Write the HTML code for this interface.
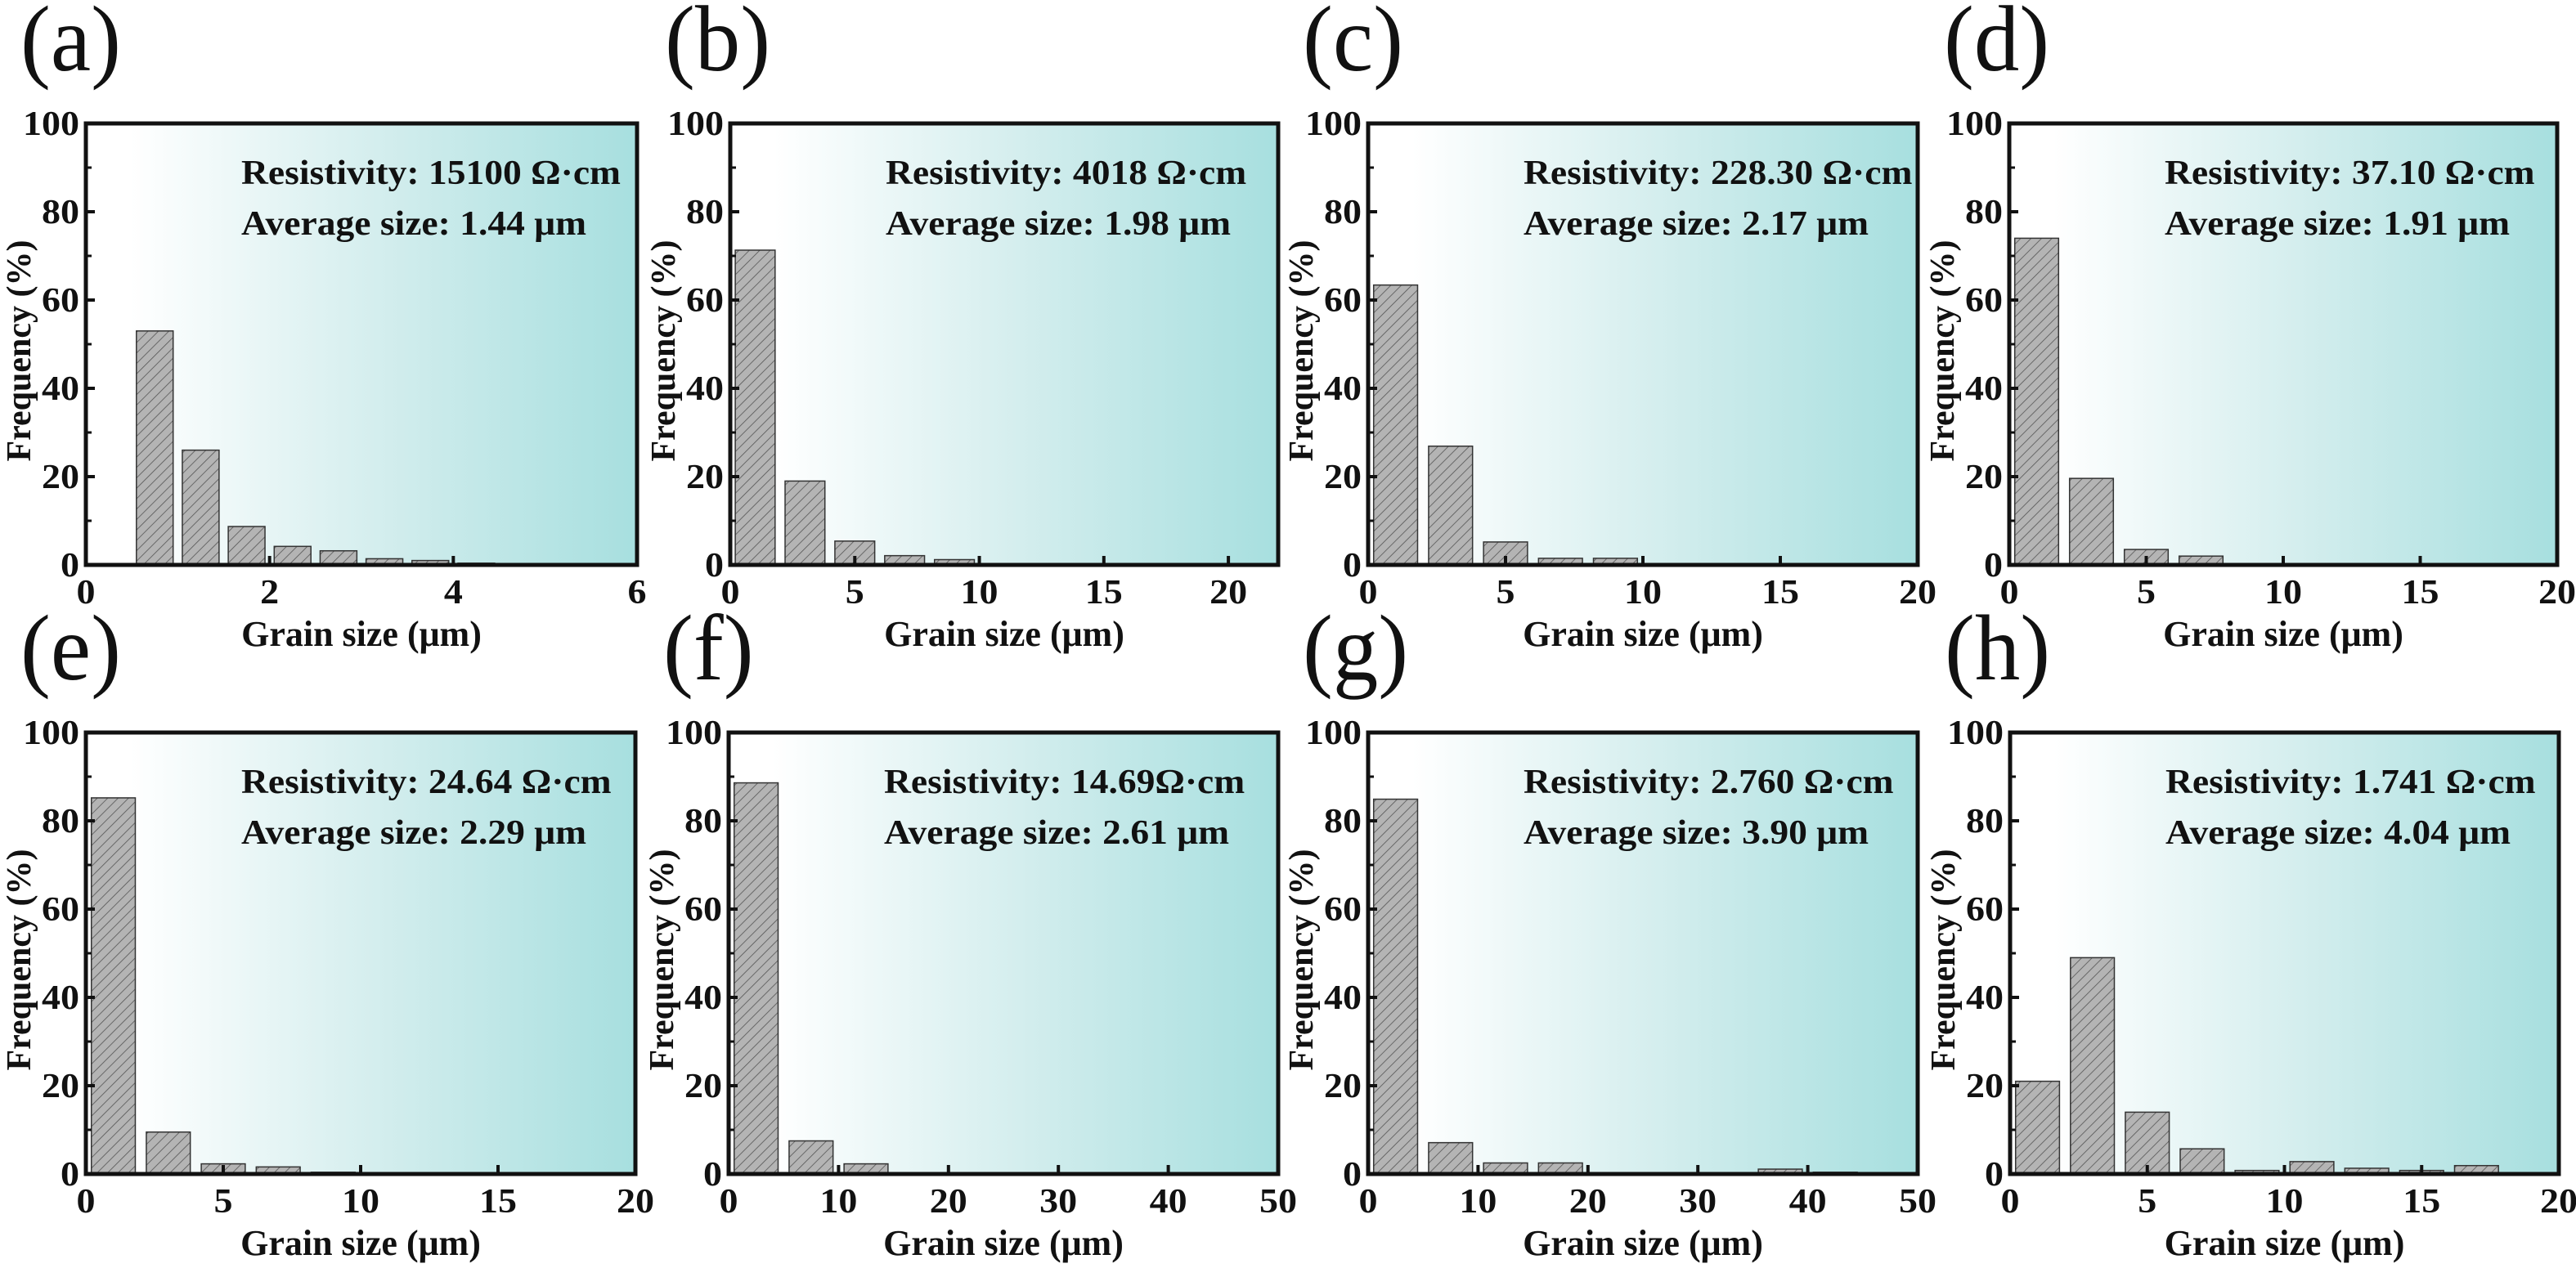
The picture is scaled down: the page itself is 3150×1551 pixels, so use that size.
<!DOCTYPE html>
<html><head><meta charset="utf-8">
<style>
html,body{margin:0;padding:0;background:#fff;}
svg, svg text{font-family:"Times New Roman","Liberation Serif","Nimbus Roman","DejaVu Serif",serif;}
</style></head>
<body>
<svg id="fig" xmlns="http://www.w3.org/2000/svg" width="3150" height="1546" viewBox="0 0 3150 1546">
<defs>
<linearGradient id="bg" x1="0" y1="0" x2="1" y2="0">
<stop offset="0" stop-color="#ffffff"/>
<stop offset="0.08" stop-color="#ffffff"/>
<stop offset="0.55" stop-color="#d2eded"/>
<stop offset="1" stop-color="#a7dfdf"/>
</linearGradient>
<pattern id="hatch" patternUnits="userSpaceOnUse" width="9" height="9" patternTransform="rotate(45)">
<rect width="9" height="9" fill="#b4b4b4"/>
<line x1="0" y1="0" x2="0" y2="9" stroke="#555" stroke-width="1.6"/>
</pattern>
</defs>
</svg>
<script>
// Panel (a)
const binsA=[0.75,1.25,1.75,2.25,2.75,3.25,3.75,4.25,4.75];
const valsA=[53,26,8.7,4.2,3.2,1.4,1.0,0.4,0.2];
// Panel (b)
const binsB=[1,3,5,7,9];
const valsB=[71.3,19,5.4,2.1,1.2];
// Panel (c)
const binsC=[1,3,5,7,9,11,13];
const valsC=[63.4,26.9,5.2,1.5,1.5,0,0.3];
// Panel (d)
const binsD=[1,3,5,7,9];
const valsD=[74,19.6,3.5,2.0,0.2];
// Panel (e)
const binsE=[1,3,5,7,9];
const valsE=[85.2,9.5,2.3,1.6,0.4];
// Panel (f)
const binsF=[2.5,7.5,12.5];
const valsF=[88.6,7.5,2.3];
// Panel (g)
const binsG=[2.5,7.5,12.5,17.5,22.5,27.5,32.5,37.5,42.5];
const valsG=[84.9,7.1,2.5,2.5,0,0.3,0,1.1,0.4];
// Panel (h)
const binsH=[1,3,5,7,9,11,13,15,17,19];
const valsH=[21,49,14,5.7,0.8,2.8,1.3,0.8,1.9,0.3];
const yTicks=[0,20,40,60,80,100];
const xTicksA=[0,2,4,6];
const xTicks20=[0,5,10,15,20];
const xTicks50=[0,10,20,30,40,50];
const letters=['(a)','(b)','(c)','(d)','(e)','(f)','(g)','(h)'];
const resist=['Resistivity: 15100 Ω·cm','Resistivity: 4018 Ω·cm','Resistivity: 228.30 Ω·cm','Resistivity: 37.10 Ω·cm','Resistivity: 24.64 Ω·cm','Resistivity: 14.69Ω·cm','Resistivity: 2.760 Ω·cm','Resistivity: 1.741 Ω·cm'];
const avgSize=['Average size: 1.44 μm','Average size: 1.98 μm','Average size: 2.17 μm','Average size: 1.91 μm','Average size: 2.29 μm','Average size: 2.61 μm','Average size: 3.90 μm','Average size: 4.04 μm'];

const NS='http://www.w3.org/2000/svg';
const svg=document.getElementById('fig');
function mk(tag,attrs,parent){const e=document.createElementNS(NS,tag);for(const k in attrs)e.setAttribute(k,attrs[k]);(parent||svg).appendChild(e);return e;}

function measure(str,size,weight){const t=mk('text',{x:0,y:-100,'font-size':size,'font-weight':weight||'normal'});t.textContent=str;const w=t.getComputedTextLength();svg.removeChild(t);return w;}
const kBold=464/measure('Resistivity: 15100 Ω·cm',42,'bold');
const kTick=69/measure('100',42,'bold');
const kLetter=123/measure('(e)',114,'normal');
const kXTitle=298/measure('Grain size (μm)',44,'bold');
const kYTitle=270/measure('Frequency (%)',42,'bold');
function fit(t,k){const w=t.getComputedTextLength();if(w>0&&Math.abs(k-1)>0.02){t.setAttribute('textLength',(w*k).toFixed(1));t.setAttribute('lengthAdjust','spacingAndGlyphs');}}

const panels=[
 {x0:105,y0:151,w:674,h:540,xmax:6,ticks:xTicksA,bw:0.4,bins:binsA,vals:valsA},
 {x0:893,y0:151,w:670,h:540,xmax:22,ticks:xTicks20,bw:1.6,bins:binsB,vals:valsB},
 {x0:1673,y0:151,w:672,h:540,xmax:20,ticks:xTicks20,bw:1.6,bins:binsC,vals:valsC},
 {x0:2457,y0:151,w:670,h:540,xmax:20,ticks:xTicks20,bw:1.6,bins:binsD,vals:valsD},
 {x0:105,y0:896,w:672,h:540,xmax:20,ticks:xTicks20,bw:1.6,bins:binsE,vals:valsE},
 {x0:891,y0:896,w:672,h:540,xmax:50,ticks:xTicks50,bw:4,bins:binsF,vals:valsF},
 {x0:1673,y0:896,w:672,h:540,xmax:50,ticks:xTicks50,bw:4,bins:binsG,vals:valsG},
 {x0:2458,y0:896,w:671,h:540,xmax:20,ticks:xTicks20,bw:1.6,bins:binsH,vals:valsH}
];

panels.forEach((p,i)=>{
 const g=mk('g',{});
 
 
 const xs=v=>p.x0+v/p.xmax*p.w;
 const ys=v=>p.y0+p.h-v/100*p.h;
 const bottom=p.y0+p.h;
 const bg=mk('rect',{x:p.x0,y:p.y0,width:p.w,height:p.h,fill:'url(#bg)'},g);
 
 
 p.bins.forEach((c,j)=>{
  const v=p.vals[j];
  if(v<=0)return;
  const r=mk('rect',{x:xs(c-p.bw/2),y:ys(v),width:xs(c+p.bw/2)-xs(c-p.bw/2),height:bottom-ys(v),fill:'url(#hatch)',stroke:'#333','stroke-width':1.5},g);
  
  
 });
 yTicks.forEach(t=>{
  mk('line',{x1:p.x0,x2:p.x0+11,y1:ys(t),y2:ys(t),stroke:'#111','stroke-width':4},g);
  const tl=mk('text',{x:p.x0-8,y:ys(t)+14,'text-anchor':'end','font-size':42,'font-weight':'bold',fill:'#111'},g);
  tl.textContent=t;
  
  
  fit(tl,kTick);
 });
 for(let t=10;t<100;t+=20){mk('line',{x1:p.x0,x2:p.x0+7,y1:ys(t),y2:ys(t),stroke:'#111','stroke-width':3},g);}
 p.ticks.forEach(t=>{
  mk('line',{x1:xs(t),x2:xs(t),y1:bottom,y2:bottom-11,stroke:'#111','stroke-width':4},g);
  const tl=mk('text',{x:xs(t),y:bottom+47,'text-anchor':'middle','font-size':42,'font-weight':'bold',fill:'#111'},g);
  tl.textContent=t;
  
  
  fit(tl,kTick);
 });
 const fr=mk('rect',{x:p.x0,y:p.y0,width:p.w,height:p.h,fill:'none',stroke:'#111','stroke-width':5},g);
 
 
 const xt=mk('text',{x:p.x0+p.w/2,y:bottom+99,'text-anchor':'middle','font-size':44,'font-weight':'bold',fill:'#111'},g);
 xt.textContent='Grain size (μm)';
 
 
 fit(xt,kXTitle);
 const cy=p.y0+p.h/2+8;
 const yt=mk('text',{x:p.x0-68,y:cy,'text-anchor':'middle','font-size':42,'font-weight':'bold',fill:'#111',transform:'rotate(-90 '+(p.x0-68)+' '+cy+')'},g);
 yt.textContent='Frequency (%)';
 
 
 fit(yt,kYTitle);
 const t1=mk('text',{x:p.x0+190,y:p.y0+74,'font-size':42,'font-weight':'bold',fill:'#111'},g);
 t1.textContent=resist[i];
 
 
 fit(t1,kBold);
 const t2=mk('text',{x:p.x0+190,y:p.y0+136,'font-size':42,'font-weight':'bold',fill:'#111'},g);
 t2.textContent=avgSize[i];
 
 
 fit(t2,kBold);
 const lt=mk('text',{x:p.x0-80,y:p.y0-65,'font-size':114,fill:'#111'},g);
 lt.textContent=letters[i];
 
 
 fit(lt,kLetter);
});
</script>
</body></html>
